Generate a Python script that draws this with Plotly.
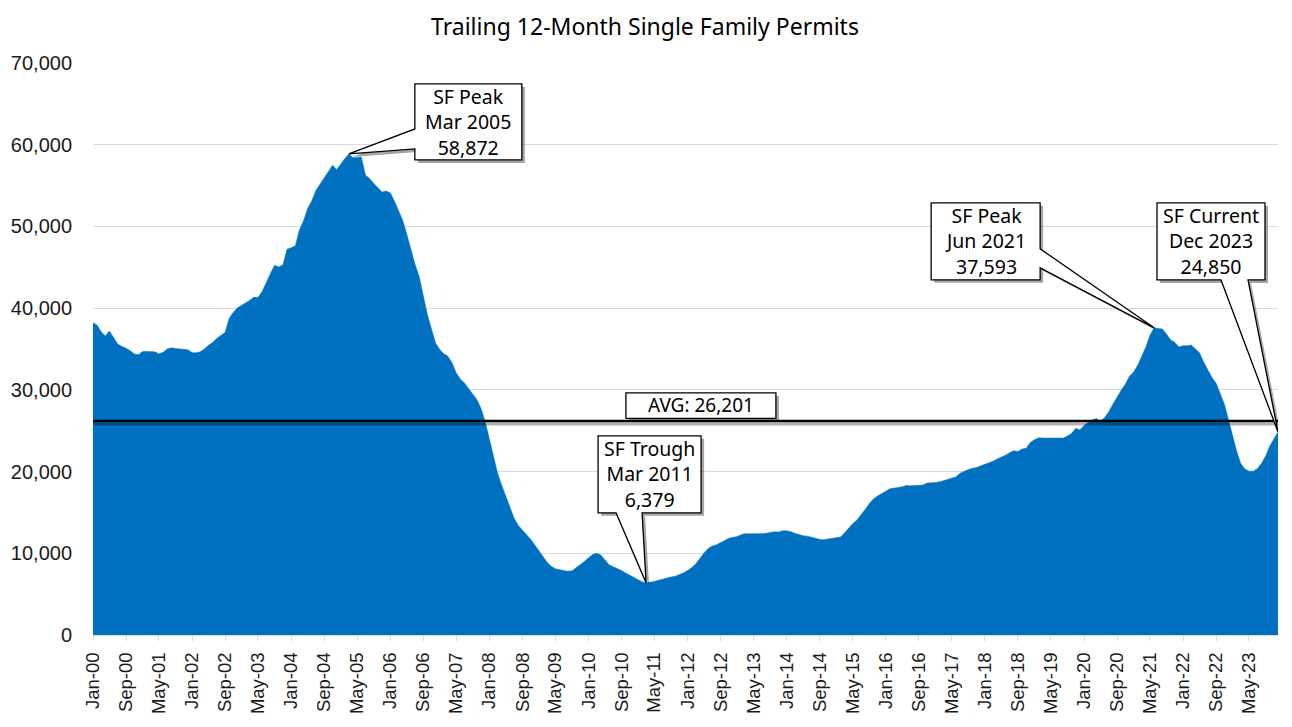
import pandas as pd
import plotly.graph_objects as go

# monthly trailing 12-month single family permits, Jan 2000 - Dec 2023
months = pd.date_range("2000-01-01", periods=288, freq="MS")

permits_2000 = [38200, 37900, 37100, 36600, 37200, 36300, 35600, 35300, 35100, 34800, 34400, 34300]
permits_2001 = [34700, 34700, 34700, 34650, 34400, 34600, 35000, 35150, 35050, 35000, 35000, 34900]
permits_2002 = [34550, 34550, 34650, 35000, 35450, 35800, 36300, 36650, 37050, 38750, 39500, 40050]
permits_2003 = [40350, 40650, 40950, 41350, 41300, 42050, 43200, 44250, 45250, 45050, 45300, 47200]
permits_2004 = [47400, 47650, 49550, 50700, 52200, 53150, 54400, 55150, 55950, 56650, 57500, 56950]
permits_2005 = [57700, 58350, 58872, 58400, 58450, 58500, 56300, 55850, 55250, 54700, 54200, 54350]
permits_2006 = [54100, 53050, 51900, 50800, 49100, 47200, 45400, 43900, 41600, 39200, 37400, 35700]
permits_2007 = [34900, 34400, 34100, 33300, 32100, 31300, 30850, 30150, 29450, 28800, 27700, 26100]
permits_2008 = [24000, 21900, 19800, 18300, 16900, 15500, 14300, 13400, 12850, 12250, 11700, 11000]
permits_2009 = [10300, 9600, 8900, 8400, 8100, 8000, 7900, 7800, 7850, 8200, 8600, 9000]
permits_2010 = [9450, 9850, 10000, 9800, 9200, 8600, 8350, 8150, 7900, 7600, 7300, 7000]
permits_2011 = [6750, 6500, 6379, 6450, 6550, 6700, 6850, 7000, 7100, 7200, 7400, 7600]
permits_2012 = [7900, 8250, 8700, 9400, 10050, 10600, 10900, 11050, 11350, 11650, 11850, 11950]
permits_2013 = [12050, 12300, 12400, 12400, 12400, 12350, 12400, 12450, 12550, 12650, 12600, 12750]
permits_2014 = [12750, 12650, 12450, 12300, 12150, 12100, 12000, 11850, 11700, 11650, 11750, 11850]
permits_2015 = [11950, 12000, 12450, 13100, 13600, 14050, 14650, 15350, 16050, 16650, 17000, 17250]
permits_2016 = [17600, 17900, 17950, 18050, 18150, 18300, 18250, 18300, 18350, 18350, 18600, 18600]
permits_2017 = [18650, 18750, 18900, 19100, 19250, 19350, 19800, 20050, 20250, 20400, 20500, 20700]
permits_2018 = [20900, 21050, 21250, 21550, 21750, 22000, 22300, 22550, 22450, 22750, 22850, 23550]
permits_2019 = [23900, 24150, 24100, 24100, 24050, 24050, 24100, 24100, 24350, 24650, 25300, 25100]
permits_2020 = [25650, 26000, 26300, 26500, 26200, 26600, 27300, 28250, 29150, 29950, 30700, 31650]
permits_2021 = [32200, 33050, 34100, 35250, 36650, 37593, 37500, 37450, 36800, 36100, 35800, 35250]
permits_2022 = [35400, 35400, 35500, 35000, 34550, 33400, 32450, 31500, 30800, 29650, 28250, 26350]
permits_2023 = [24250, 22400, 21000, 20300, 20050, 20050, 20350, 21000, 21900, 23100, 24000, 24850]

permits = (permits_2000 + permits_2001 + permits_2002 + permits_2003 + permits_2004
           + permits_2005 + permits_2006 + permits_2007 + permits_2008 + permits_2009
           + permits_2010 + permits_2011 + permits_2012 + permits_2013 + permits_2014
           + permits_2015 + permits_2016 + permits_2017 + permits_2018 + permits_2019
           + permits_2020 + permits_2021 + permits_2022 + permits_2023)

AVG = 26201

s = pd.Series(permits, index=months)
peak1 = s[:"2008"].idxmax()
trough = s["2008":"2014"].idxmin()
peak2 = s["2019":].idxmax()
current = s.index[-1]

BLUE = "#0070C0"
SHADOW = "rgba(0,0,0,0.35)"
TXT_FONT = "Noto Sans"
TICK_FONT = "Liberation Sans, Arial"

# page body has an 8px margin, so the figure is a little smaller than the window
W, H = 1284, 719

fig = go.Figure()
fig.add_trace(go.Scatter(
    x=months, y=permits, mode="lines", fill="tozeroy",
    fillcolor=BLUE, line=dict(color=BLUE, width=0.5),
    hoverinfo="x+y", showlegend=False,
))


def path_str(pts, dx=0, dy=0):
    p = "M " + " L ".join(f"{x + dx},{y + dy}" for x, y in pts)
    return p + " Z"


# callout outlines in pixels relative to the tip (y up), plus text centre
callouts = [
    (peak1, "SF Peak", [(0, 0), (66, 25), (66, 70), (173, 70), (173, -6), (66, -6), (66, 5)], (119.5, 32)),
    (trough, "SF Trough", [(0, 0), (-4, 70), (55, 70), (55, 147), (-48, 147), (-48, 70), (-30, 70)], (3.5, 108.5)),
    (peak2, "SF Peak", [(0, 0), (-114, 60), (-114, 48), (-223, 48), (-223, 125), (-114, 125), (-114, 79)], (-168.5, 86.5)),
    (current, "SF Current", [(0, 0), (-57, 152), (-121, 152), (-121, 229), (-13, 229), (-13, 152), (-30, 152)], (-67, 190.5)),
]

shapes = []
annotations = []

# average line with a soft shadow
shapes.append(dict(type="line", xref="paper", x0=0, x1=1, yref="y", ysizemode="pixel",
                   yanchor=AVG, y0=-3, y1=-3, line=dict(color="rgba(0,0,0,0.3)", width=3), layer="above"))
shapes.append(dict(type="line", xref="paper", x0=0, x1=1, yref="y", y0=AVG, y1=AVG,
                   line=dict(color="black", width=2.5), layer="above"))

# AVG label box sitting on the line
avg_box = [(-75, 2.5), (75, 2.5), (75, 28), (-75, 28)]
avg_common = dict(type="path", xref="paper", yref="y", xsizemode="pixel", ysizemode="pixel",
                  xanchor=0.513, yanchor=AVG, layer="above")
shapes.append(dict(avg_common, path=path_str(avg_box, 3, -3), fillcolor=SHADOW, line=dict(width=0)))
shapes.append(dict(avg_common, path=path_str(avg_box), fillcolor="white",
                   line=dict(color="black", width=1.3)))
annotations.append(dict(
    xref="paper", x=0.513, yref="y", y=AVG, yshift=15.5, showarrow=False,
    text=f"AVG: {AVG:,}", font=dict(family=TXT_FONT, size=19, color="black"),
))

for d, title, pts, (cx, cy) in callouts:
    val = s[d]
    common = dict(type="path", xref="x", yref="y", xsizemode="pixel", ysizemode="pixel",
                  xanchor=d, yanchor=val, layer="above")
    shapes.append(dict(common, path=path_str(pts, 3, -3), fillcolor=SHADOW, line=dict(width=0)))
    shapes.append(dict(common, path=path_str(pts), fillcolor="white",
                       line=dict(color="black", width=1.3)))
    annotations.append(dict(
        x=d, y=val, xref="x", yref="y", xshift=cx, yshift=cy, showarrow=False,
        text=f"{title}<br>{d.strftime('%b %Y')}<br>{val:,}",
        font=dict(family=TXT_FONT, size=19.5, color="black"), align="center",
    ))

fig.update_layout(
    width=W, height=H,
    margin=dict(l=85, r=14, t=55, b=92, autoexpand=False),
    paper_bgcolor="white", plot_bgcolor="white",
    title=dict(text="Trailing 12-Month Single Family Permits", x=(645 - 8) / W, xref="container",
               y=1 - 19 / H, yanchor="middle", xanchor="center",
               font=dict(family=TXT_FONT, size=23, color="black")),
    shapes=shapes, annotations=annotations,
    showlegend=False,
)
fig.update_xaxes(
    range=[months[0], months[-1]], tick0=months[0], dtick="M8", tickformat="%b-%y",
    tickangle=-90, ticks="outside", ticklen=5, tickcolor="#D9D9D9",
    showline=True, linecolor="#D9D9D9", showgrid=False, zeroline=False,
    tickfont=dict(family=TICK_FONT, size=18.5, color="#1a1a1a"), ticklabelstandoff=4,
)
fig.update_yaxes(
    range=[0, 70000], dtick=10000, tickformat=",", showgrid=True, gridcolor="#D9D9D9",
    gridwidth=1, zeroline=False, showline=False,
    tickfont=dict(family=TICK_FONT, size=20, color="#1a1a1a"), ticklabelstandoff=20,
)

fig.write_html("out.html")
